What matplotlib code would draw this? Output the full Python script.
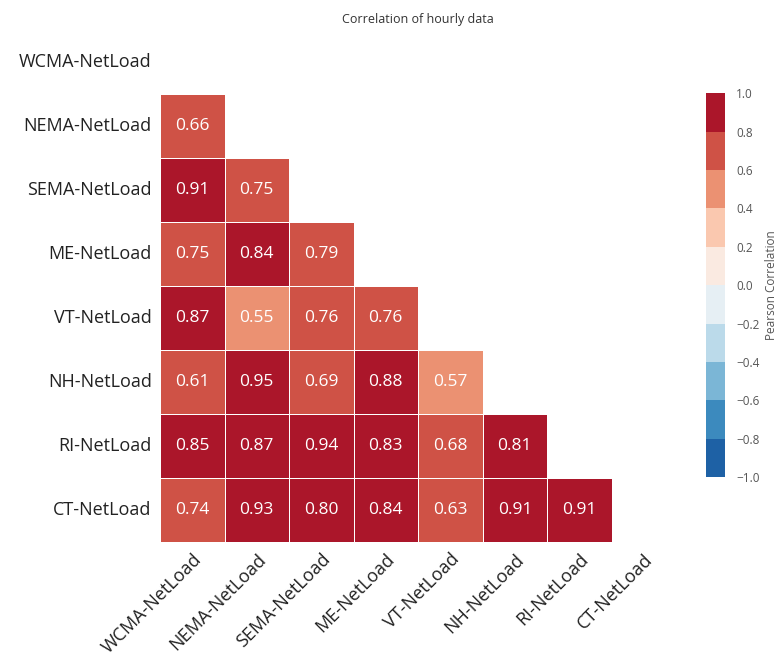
import numpy as np
import pandas as pd
import seaborn as sns
import matplotlib.pyplot as plt
from matplotlib.colors import ListedColormap

plt.rcParams['font.family'] = ['Open Sans', 'DejaVu Sans']

labels = ["WCMA-NetLoad", "NEMA-NetLoad", "SEMA-NetLoad", "ME-NetLoad",
          "VT-NetLoad", "NH-NetLoad", "RI-NetLoad", "CT-NetLoad"]

# lower triangle of the correlation matrix, row by row
nema = [0.66]
sema = [0.91, 0.75]
me = [0.75, 0.84, 0.79]
vt = [0.87, 0.55, 0.76, 0.76]
nh = [0.61, 0.95, 0.69, 0.88, 0.57]
ri = [0.85, 0.87, 0.94, 0.83, 0.68, 0.81]
ct = [0.74, 0.93, 0.80, 0.84, 0.63, 0.91, 0.91]
rows = [[], nema, sema, me, vt, nh, ri, ct]

cbar_ticks = [-1.0, -0.8, -0.6, -0.4, -0.2, 0.0, 0.2, 0.4, 0.6, 0.8, 1.0]

n = len(labels)
corr = np.ones((n, n))
for i, r in enumerate(rows):
    for j, v in enumerate(r):
        corr[i, j] = v
        corr[j, i] = v
df = pd.DataFrame(corr, index=labels, columns=labels)
mask = np.triu(np.ones((n, n), dtype=bool))

cmap = ListedColormap(sns.color_palette("RdBu_r", 10))

fig = plt.figure(figsize=(7.82, 6.64), dpi=100)
ax = fig.add_axes([0.2046, 0.1837, 0.66, 0.771])
cax = fig.add_axes([0.903, 0.2816, 0.0243, 0.578])

sns.heatmap(df, mask=mask, cmap=cmap, vmin=-1, vmax=1, annot=True, fmt=".2f",
            annot_kws={"size": 12.5, "color": "white"}, linewidths=0.7, linecolor="white",
            square=False, ax=ax, cbar_ax=cax, cbar_kws={"ticks": cbar_ticks})

ax.set_title("Correlation of hourly data", fontsize=9, color="#333333", pad=5)
ax.set_xticklabels(labels, rotation=45, ha="right", rotation_mode="anchor", fontsize=13, color="#222222")
ax.set_yticklabels(labels, rotation=0, fontsize=13, color="#222222")
ax.tick_params(length=0, pad=6)

cb = ax.collections[0].colorbar
cb.outline.set_visible(False)
cb.ax.tick_params(length=0, labelsize=8.5, labelcolor="#555555", pad=8)
cb.set_ticklabels([("%.1f" % t).replace("-", "\u2212") for t in cbar_ticks])
cb.set_label("Pearson Correlation", fontsize=8.5, color="#555555", labelpad=4)

fig.savefig("out.png", dpi=100)
